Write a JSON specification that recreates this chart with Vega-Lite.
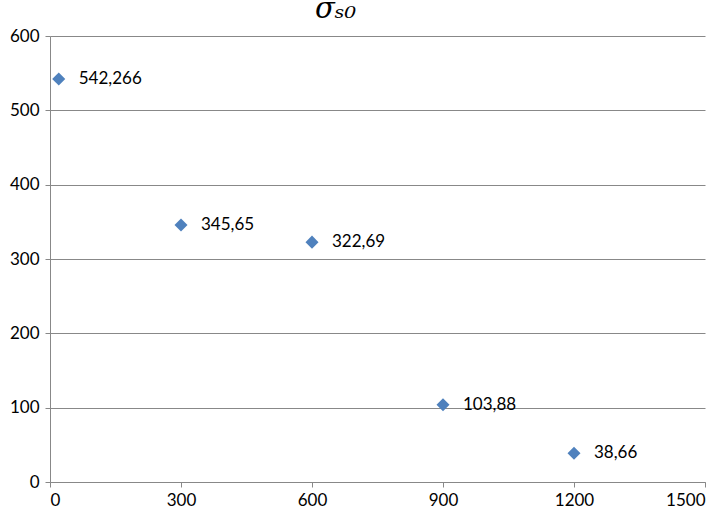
{
  "$schema": "https://vega.github.io/schema/vega-lite/v6.json",
  "width": 655,
  "height": 446,
  "autosize": {"type": "none"},
  "padding": {"left": 50, "top": 36, "right": 20, "bottom": 33},
  "background": "white",
  "title": {
    "text": "σₛ₀",
    "font": "DejaVu Serif",
    "fontStyle": "italic",
    "fontWeight": "normal",
    "fontSize": 29,
    "color": "#000000",
    "anchor": "middle",
    "dx": -42,
    "offset": 3
  },
  "data": {
    "values": [
      {"x": 20, "y": 542.266, "label": "542,266"},
      {"x": 300, "y": 345.65, "label": "345,65"},
      {"x": 600, "y": 322.69, "label": "322,69"},
      {"x": 900, "y": 103.88, "label": "103,88"},
      {"x": 1200, "y": 38.66, "label": "38,66"}
    ]
  },
  "config": {
    "view": {"stroke": null},
    "axis": {
      "labelFont": "Lato",
      "labelFontSize": 17,
      "labelColor": "#000000",
      "domainColor": "#888888",
      "tickColor": "#888888",
      "gridColor": "#888888",
      "title": null
    }
  },
  "encoding": {
    "x": {
      "field": "x",
      "type": "quantitative",
      "scale": {"domain": [0, 1500], "nice": false, "zero": true},
      "axis": {"values": [0, 300, 600, 900, 1200, 1500], "format": "d", "grid": false, "tickSize": 5, "labelPadding": 5, "title": null}
    },
    "y": {
      "field": "y",
      "type": "quantitative",
      "scale": {"domain": [0, 600], "nice": false},
      "axis": {"values": [0, 100, 200, 300, 400, 500, 600], "format": "d", "grid": true, "tickSize": 5, "labelPadding": 6, "title": null}
    }
  },
  "layer": [
    {
      "mark": {"type": "point", "shape": "diamond", "filled": true, "size": 170, "color": "#4F81BD", "opacity": 1}
    },
    {
      "mark": {"type": "text", "align": "left", "baseline": "middle", "dx": 20, "font": "Lato", "fontSize": 17, "color": "#000000"},
      "encoding": {"text": {"field": "label"}}
    }
  ]
}
